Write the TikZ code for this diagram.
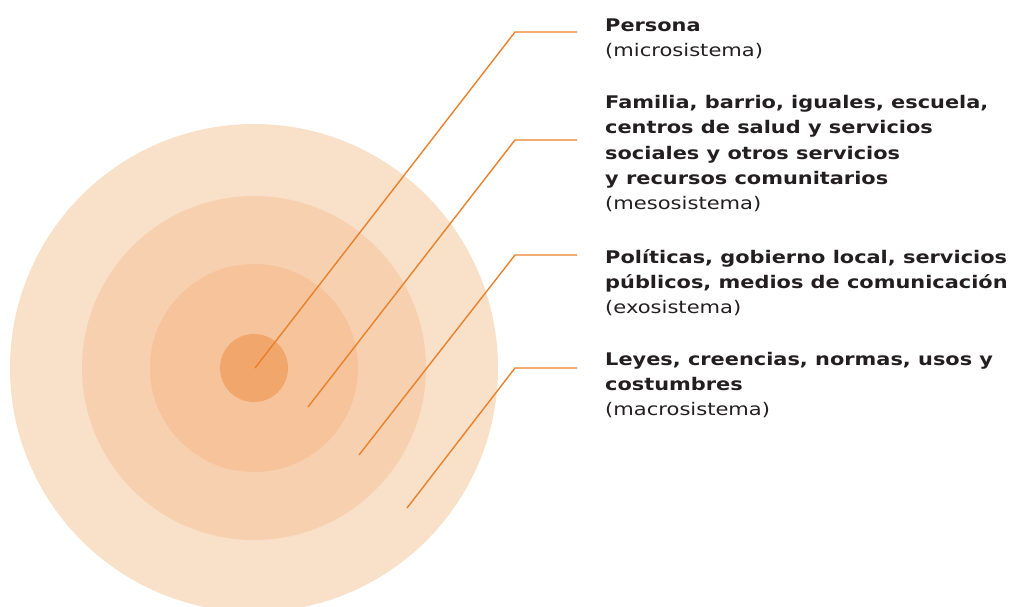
\documentclass[tikz,border=0pt]{standalone}
\usepackage{fontspec}
\setmainfont{DejaVu Sans}
\newfontfamily\lblregular{DejaVu Sans}[FakeStretch=1.21]
\newfontfamily\lblbold{DejaVu Sans Bold}[FakeStretch=1.2]
\definecolor{ringA}{HTML}{F9E0C8}
\definecolor{ringB}{HTML}{F7D0AF}
\definecolor{ringC}{HTML}{F6C39A}
\definecolor{ringD}{HTML}{F1A66B}
\definecolor{leader}{HTML}{E8812A}
\definecolor{txt}{HTML}{231F20}
\tikzset{
  lbl/.style={anchor=base west, inner sep=0pt, text=txt, font=\fontsize{17.4}{20}\lblregular},
  lblb/.style={lbl, font=\fontsize{17.4}{20}\lblbold},
  leaderline/.style={draw=leader, line width=1.4pt, line join=miter}
}
\begin{document}
\begin{tikzpicture}[x=1pt,y=-1pt]
\useasboundingbox (0,0) rectangle (1014,607);
\clip (0,0) rectangle (1014,607);
\fill[ringA] (254,368) circle (244pt);
\fill[ringB] (254,368) circle (172pt);
\fill[ringC] (254,368) circle (104pt);
\fill[ringD] (254,368) circle (34pt);
% leader coordinates
\coordinate (s1) at (255,368); \coordinate (k1) at (515,32);  \coordinate (e1) at (577,32);
\coordinate (s2) at (308,407); \coordinate (k2) at (515,140); \coordinate (e2) at (577,140);
\coordinate (s3) at (359,455); \coordinate (k3) at (515,255); \coordinate (e3) at (577,255);
\coordinate (s4) at (407,508); \coordinate (k4) at (515,368); \coordinate (e4) at (577,368);
\draw[leaderline] (s1) -- (k1) -- (e1);
\draw[leaderline] (s2) -- (k2) -- (e2);
\draw[leaderline] (s3) -- (k3) -- (e3);
\draw[leaderline] (s4) -- (k4) -- (e4);
% texts
\node[lblb] (t1a) at (605,32) {Persona};
\node[lbl]  (t1b) at (605,57) {(microsistema)};
\node[lblb] (t2a) at (605,109) {Familia, barrio, iguales, escuela,};
\node[lblb] (t2b) at (605,134) {centros de salud y servicios};
\node[lblb] (t2c) at (605,159) {sociales y otros servicios};
\node[lblb] (t2d) at (605,184) {y recursos comunitarios};
\node[lbl]  (t2e) at (605,209) {(mesosistema)};
\node[lblb] (t3a) at (605,263) {Políticas, gobierno local, servicios};
\node[lblb] (t3b) at (605,288) {públicos, medios de comunicación};
\node[lbl]  (t3c) at (605,313) {(exosistema)};
\node[lblb] (t4a) at (605,365) {Leyes, creencias, normas, usos y};
\node[lblb] (t4b) at (605,390) {costumbres};
\node[lbl]  (t4c) at (605,415) {(macrosistema)};
\end{tikzpicture}
\end{document}
